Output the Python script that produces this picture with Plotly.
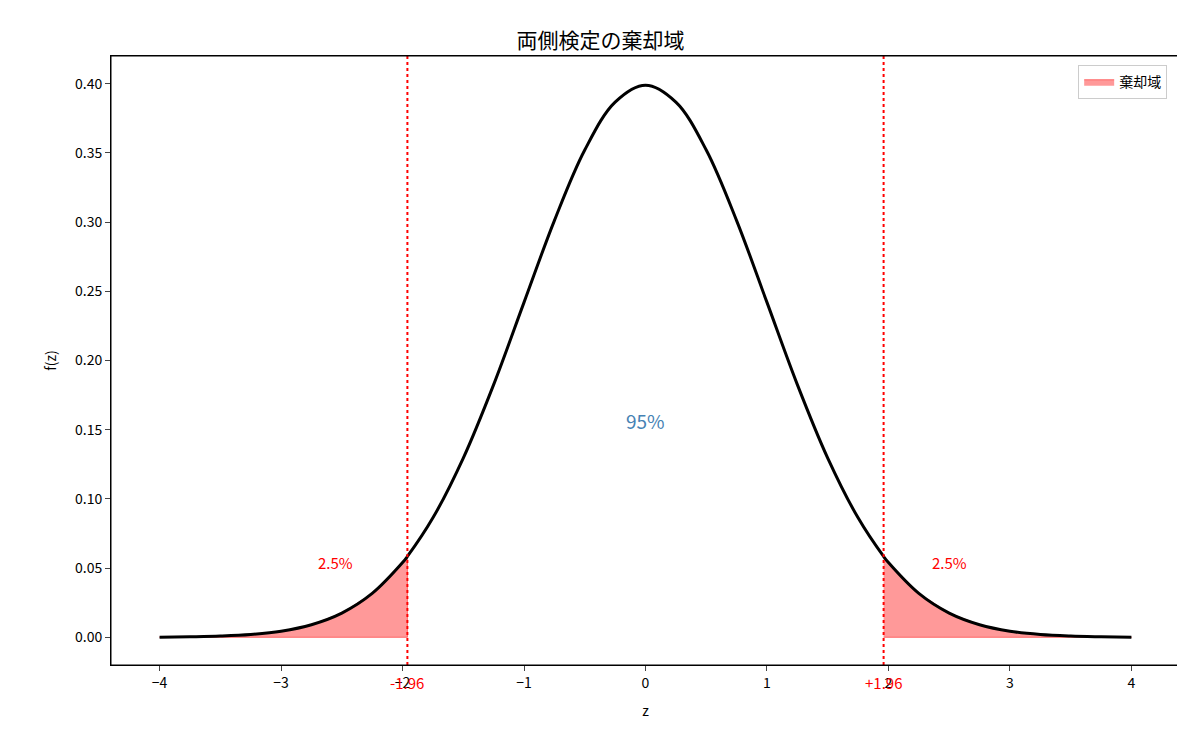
import plotly.graph_objects as go

# values
z = [-4, -3.75, -3.5, -3.25, -3, -2.75, -2.5, -2.25, -2, -1.96, -1.75, -1.5, -1.25, -1,
     -0.75, -0.5, -0.25, 0, 0.25, 0.5, 0.75, 1, 1.25, 1.5, 1.75, 1.96, 2, 2.25, 2.5,
     2.75, 3, 3.25, 3.5, 3.75, 4]
fz = [0.0001, 0.0004, 0.0009, 0.0020, 0.0044, 0.0091, 0.0175, 0.0317, 0.0540, 0.0584,
      0.0863, 0.1295, 0.1826, 0.2420, 0.3011, 0.3521, 0.3867, 0.3989, 0.3867, 0.3521,
      0.3011, 0.2420, 0.1826, 0.1295, 0.0863, 0.0584, 0.0540, 0.0317, 0.0175, 0.0091,
      0.0044, 0.0020, 0.0009, 0.0004, 0.0001]
crit = 1.96

left_x = [v for v in z if v <= -crit]
left_y = [fz[i] for i, v in enumerate(z) if v <= -crit]
right_x = [v for v in z if v >= crit]
right_y = [fz[i] for i, v in enumerate(z) if v >= crit]

fill = 'rgba(255,0,0,0.4)'
fig = go.Figure()
fig.add_trace(go.Scatter(x=left_x + [-crit, left_x[0]], y=left_y + [0, 0], fill='toself',
                         fillcolor=fill, line=dict(color='rgba(255,0,0,0.5)', width=1),
                         mode='lines', name='棄却域'))
fig.add_trace(go.Scatter(x=right_x + [right_x[-1], crit], y=right_y + [0, 0], fill='toself',
                         fillcolor=fill, line=dict(color='rgba(255,0,0,0.5)', width=1),
                         mode='lines', showlegend=False))
fig.add_trace(go.Scatter(x=z, y=fz, mode='lines', line=dict(color='black', width=3, shape='spline'),
                         showlegend=False))

for c in (-crit, crit):
    fig.add_vline(x=c, line=dict(color='red', dash='dot', width=2))

fig.add_shape(type='rect', xref='paper', yref='paper', x0=0, x1=1, y0=0, y1=1,
              line=dict(color='black', width=1))

fig.add_annotation(x=-crit, y=-0.008, yref='paper', yanchor='top', text='-1.96',
                   showarrow=False, font=dict(color='red', size=15))
fig.add_annotation(x=crit, y=-0.008, yref='paper', yanchor='top', text='+1.96',
                   showarrow=False, font=dict(color='red', size=15))
fig.add_annotation(x=-2.55, y=0.054, text='2.5%', showarrow=False, font=dict(color='red', size=15))
fig.add_annotation(x=2.5, y=0.054, text='2.5%', showarrow=False, font=dict(color='red', size=15))
fig.add_annotation(x=0, y=0.157, text='95%', showarrow=False, font=dict(color='steelblue', size=19))

axis = dict(showline=True, linecolor='black', mirror=True, ticks='outside', showgrid=False,
            zeroline=False, tickfont=dict(size=14))
fig.update_layout(
    width=1185, height=736, template='plotly_white',
    font=dict(family='Noto Sans CJK JP', color='black'),
    title=dict(text='両側検定の棄却域', x=0.5, y=0.965, font=dict(size=21)),
    margin=dict(l=103, r=13, t=48, b=79),
    xaxis=dict(axis, range=[-4.4, 4.4], dtick=1, title=dict(text='z', font=dict(size=14))),
    yaxis=dict(axis, range=[-0.02, 0.42], dtick=0.05, tickformat='.2f',
               title=dict(text='f(z)', font=dict(size=14))),
    legend=dict(x=0.988, y=0.985, xanchor='right', yanchor='top', bordercolor='#ccc',
                borderwidth=1, font=dict(size=14)),
)
fig.write_html("out.html")
